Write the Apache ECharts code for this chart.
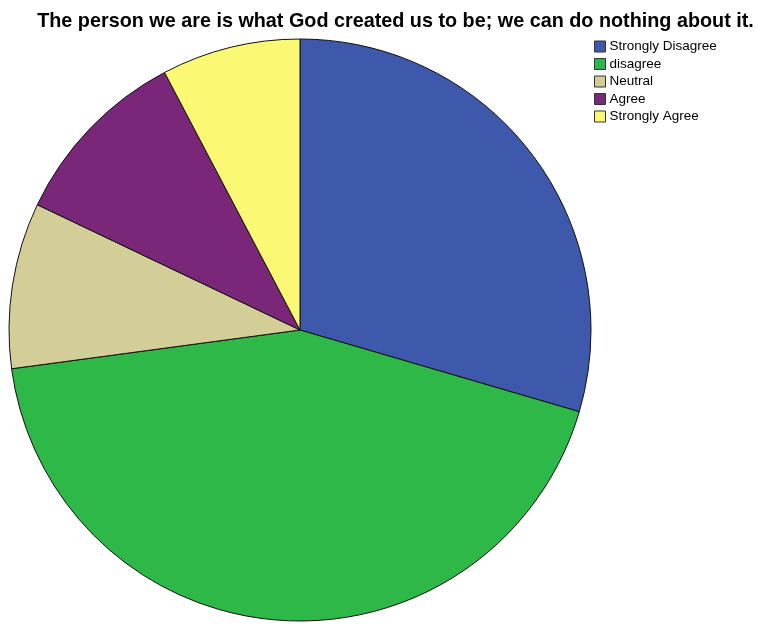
<!DOCTYPE html>
<html><head><meta charset="utf-8">
<script src="https://cdn.jsdelivr.net/npm/echarts@6/dist/echarts.min.js"></script>
<style>html,body{margin:0;padding:0;background:#fff}#c{width:758px;height:626px}</style>
</head><body><div id="c"></div>
<script>
const titleText = 'The person we are is what God created us to be; we can do nothing about it.';
const categories = ['Strongly Disagree', 'disagree', 'Neutral', 'Agree', 'Strongly Agree'];
const values = [29.5, 43.3, 9.2, 10.2, 7.7];
const colors = ['#3E58AC', '#2EB848', '#D3CE97', '#7B2779', '#FBF873'];

const chart = echarts.init(document.getElementById('c'), null, {renderer: 'canvas'});
chart.setOption({
  animation: false,
  backgroundColor: '#ffffff',
  title: {
    text: titleText, left: 390.5, top: 7, textAlign: 'center',
    textStyle: {fontFamily: 'Liberation Sans, Arial', fontWeight: 'bold', fontSize: 19.8, color: '#000'}
  },
  legend: {
    orient: 'vertical', left: 589, top: 34.5, itemWidth: 11, itemHeight: 11, itemGap: 3.5,
    icon: 'rect',
    itemStyle: {borderColor: '#333', borderWidth: 1},
    textStyle: {fontFamily: 'Liberation Sans, Arial', fontSize: 13.5, lineHeight: 14, color: '#000', padding: [0,0,0,-1]},
    data: categories
  },
  series: [{
    type: 'pie', center: [300, 330], radius: 291, startAngle: 90, clockwise: true,
    label: {show: false}, labelLine: {show: false},
    itemStyle: {borderColor: '#111', borderWidth: 1},
    emphasis: {disabled: true},
    data: categories.map((c, i) => ({name: c, value: values[i], itemStyle: {color: colors[i]}}))
  }]
});
</script></body></html>
